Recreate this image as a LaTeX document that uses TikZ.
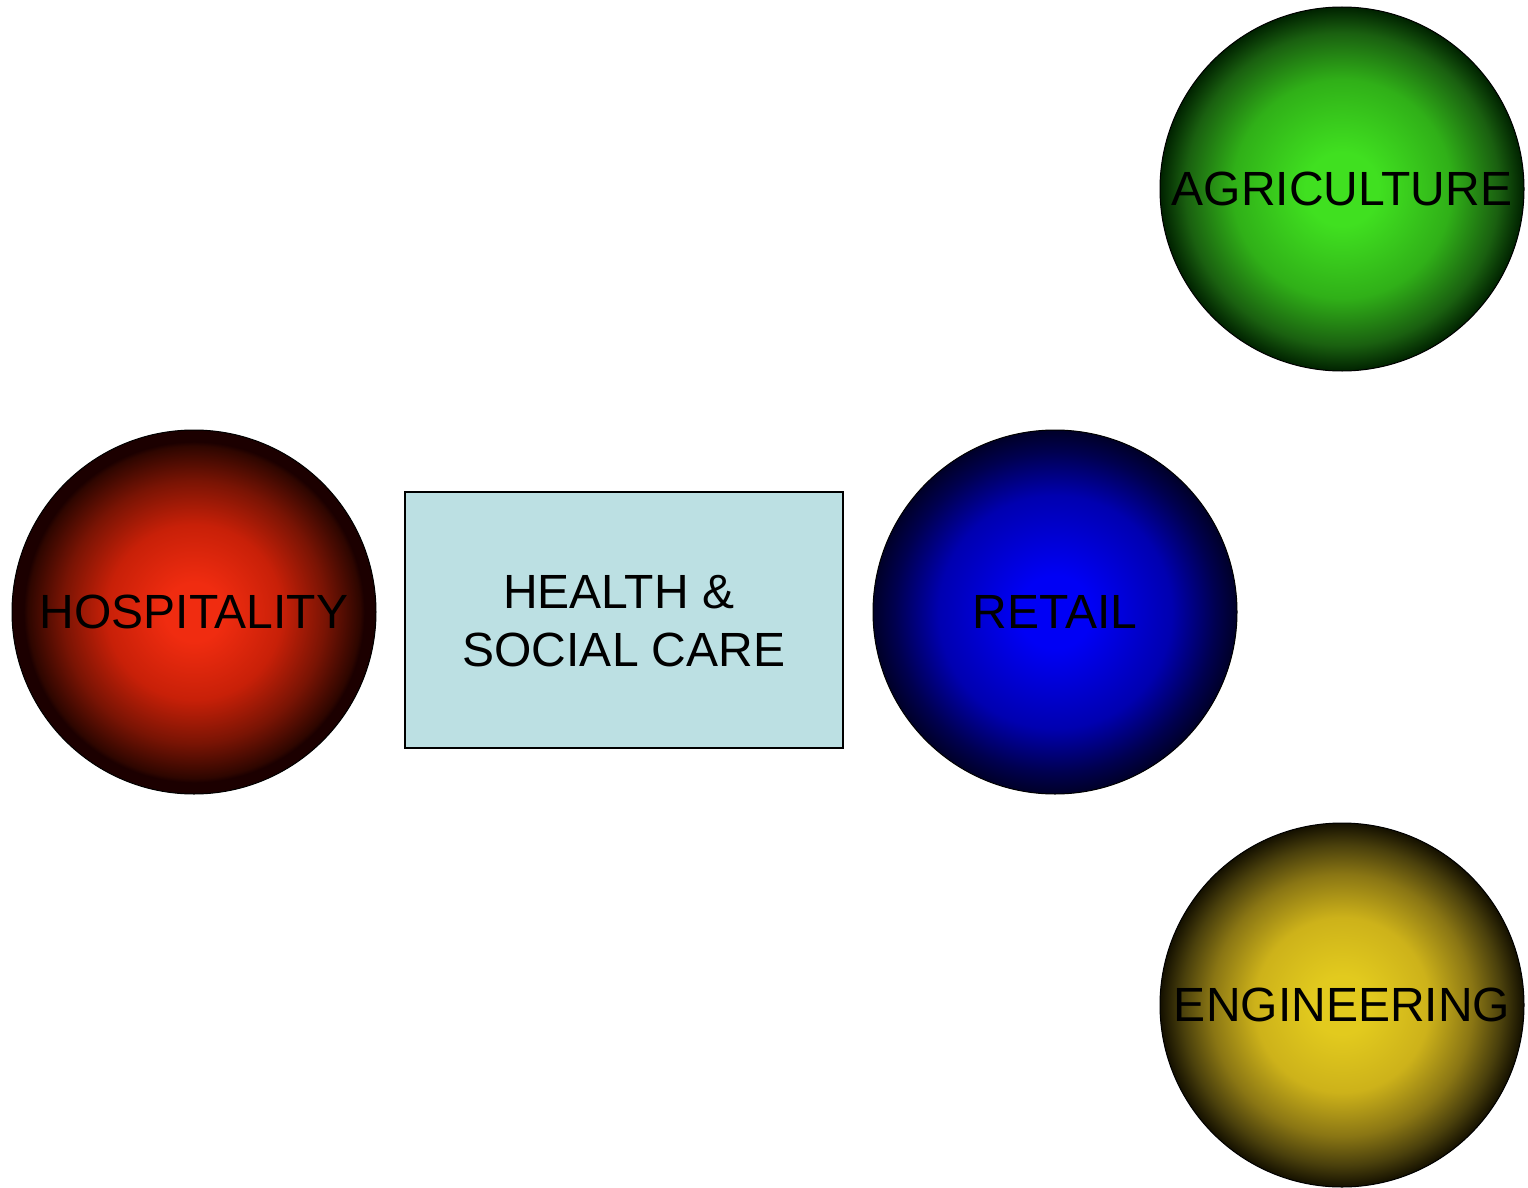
\documentclass[tikz,border=0pt]{standalone}
\usepackage{fontspec}
\setmainfont{Liberation Sans}
\definecolor{hA}{HTML}{F02C10}
\definecolor{hB}{HTML}{C82008}
\definecolor{hC}{HTML}{7A1404}
\definecolor{hD}{HTML}{2E0600}
\definecolor{hE}{HTML}{1C0000}
\definecolor{rA}{HTML}{0000F5}
\definecolor{rB}{HTML}{0000B0}
\definecolor{rC}{HTML}{000050}
\definecolor{rD}{HTML}{000028}
\definecolor{gA}{HTML}{40E020}
\definecolor{gB}{HTML}{30B018}
\definecolor{gC}{HTML}{1A6010}
\definecolor{gD}{HTML}{002200}
\definecolor{yA}{HTML}{E2CA1E}
\definecolor{yB}{HTML}{CDB21A}
\definecolor{yC}{HTML}{8A7614}
\definecolor{yD}{HTML}{4A400C}
\definecolor{yE}{HTML}{141000}
\definecolor{boxfill}{HTML}{BCE0E3}
\pgfdeclareradialshading{hospshade}{\pgfpoint{0bp}{0bp}}{color(0bp)=(hA); color(4bp)=(hA); color(12bp)=(hB); color(18bp)=(hC); color(22.8bp)=(hD); color(23.4bp)=(hE); color(50bp)=(hE)}
\pgfdeclareradialshading{retailshade}{\pgfpoint{0bp}{0bp}}{color(0bp)=(rA); color(5bp)=(rA); color(16bp)=(rB); color(22bp)=(rC); color(25bp)=(rD); color(50bp)=(rD)}
\pgfdeclareradialshading{agrishade}{\pgfpoint{0bp}{0bp}}{color(0bp)=(gA); color(5bp)=(gA); color(15bp)=(gB); color(21.5bp)=(gC); color(25bp)=(gD); color(50bp)=(gD)}
\pgfdeclareradialshading{engshade}{\pgfpoint{0bp}{0bp}}{color(0bp)=(yA); color(4bp)=(yA); color(12bp)=(yB); color(18bp)=(yC); color(22bp)=(yD); color(25bp)=(yE); color(50bp)=(yE)}
\tikzset{
  ball/.style={circle, minimum size=364pt, inner sep=0pt, draw=black, line width=1pt,
    font=\fontsize{48}{58}\selectfont, text=black},
  sectorbox/.style={rectangle, minimum width=438pt, minimum height=256pt, inner sep=0pt,
    draw=black, line width=1.5pt, fill=boxfill, align=center,
    font=\fontsize{48}{58}\selectfont, text=black}
}
\begin{document}
\begin{tikzpicture}[x=1pt,y=-1pt]
\useasboundingbox (0,0) rectangle (1528,1188);
\node[ball, shading=hospshade] (hosp) at (194,612) {HOSPITALITY};
\node[sectorbox] (health) at (624,620) {HEALTH \&\phantom{i}\\SOCIAL CARE};
\node[ball, shading=retailshade] (retail) at (1055,612) {RETAIL};
\node[ball, shading=agrishade] (agri) at (1342,189) {AGRICULTURE};
\node[ball, shading=engshade] (eng) at (1342,1005) {ENGINEERING};
\end{tikzpicture}
\end{document}
